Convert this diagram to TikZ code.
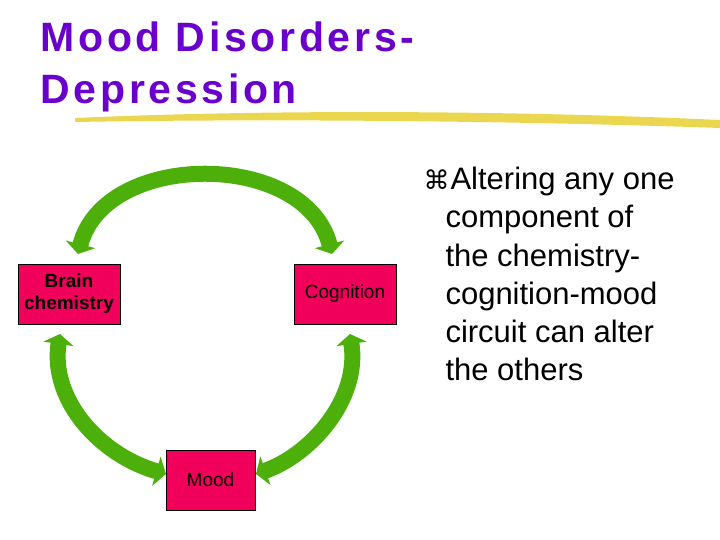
\documentclass[tikz,border=0pt]{standalone}
\usepackage{fontspec}
\setmainfont{Liberation Sans}
\newfontfamily\dejavu{DejaVu Sans}
\newfontfamily\ttlfont[LetterSpace=9]{Liberation Sans Bold}
\usetikzlibrary{arrows.meta}
\definecolor{ttl}{HTML}{6A00CC}
\definecolor{grn}{HTML}{4CAF0A}
\definecolor{box}{HTML}{F0005A}
\definecolor{yel}{HTML}{E8D030}
\begin{document}
\begin{tikzpicture}[x=1pt,y=-1pt,
  bx/.style={draw=black,fill=box,align=center,inner sep=0pt,font=\fontsize{19}{22}\selectfont},
  arr/.style={draw=grn,line width=16pt,{Triangle[width=30pt,length=10pt]}-{Triangle[width=30pt,length=10pt]}},
  body/.style={anchor=base west,font=\fontsize{31}{34}\selectfont},
  tt/.style={anchor=base west,text=ttl,font=\ttlfont\fontsize{41}{44}\selectfont}]
\useasboundingbox (0,0) rectangle (720,540);
\node[tt] (t1) at (37,52) {Mood Disorders-};
\node[tt] (t2) at (37,104) {Depression};
\fill[yel,opacity=0.85] (75,118) .. controls (300,108) and (550,112) .. (720,120) -- (720,128) .. controls (550,122) and (300,118) .. (75,122) -- cycle;
\node[bx,minimum width=102pt,minimum height=60pt] (bc) at (69,294) {\textbf{Brain}\\\textbf{chemistry}};
\node[bx,minimum width=102pt,minimum height=60pt] (cg) at (345,294) {Cognition};
\node[bx,minimum width=89pt,minimum height=60pt] (md) at (210.5,480) {Mood};
\coordinate (a1) at (78,254); \coordinate (a2) at (332,254);
\coordinate (b1) at (60,334); \coordinate (b2) at (166,474);
\coordinate (c1) at (350,334); \coordinate (c2) at (256,474);
\draw[arr] (a1) .. controls (105,150) and (305,150) .. (a2);
\draw[arr] (b1) .. controls (50,400) and (100,455) .. (b2);
\draw[arr] (c1) .. controls (360,400) and (310,455) .. (c2);
\node[anchor=base west,font=\dejavu\fontsize{26}{28}\selectfont] (bul) at (420,190) {⌘};
\node[body] (l1) at (447,190) {Altering any one};
\node[body] (l2) at (442,228) {component of};
\node[body] (l3) at (442,266) {the chemistry-};
\node[body] (l4) at (442,304) {cognition-mood};
\node[body] (l5) at (442,342) {circuit can alter};
\node[body] (l6) at (442,380) {the others};
\end{tikzpicture}
\end{document}
